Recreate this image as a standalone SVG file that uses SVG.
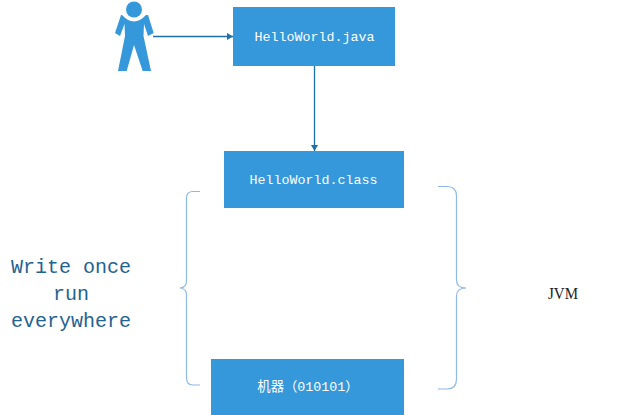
<svg xmlns="http://www.w3.org/2000/svg" width="630" height="415" viewBox="0 0 630 415">
<style>
.box{fill:#3498db}
.lbl{font-family:"Liberation Mono","Noto Sans CJK SC",monospace;font-size:13.33px;fill:#fff;text-anchor:middle}
.big{font-family:"Liberation Mono",monospace;font-size:20px;fill:#1f6391;text-anchor:middle}
.brace{fill:none;stroke:#8db8e8;stroke-width:1.2}
.conn{stroke:#1f6fa8;stroke-width:1.3;fill:none;marker-end:url(#arrow)}
</style>
<defs>
<marker id="arrow" markerUnits="userSpaceOnUse" markerWidth="7" markerHeight="7" refX="6" refY="3.5" orient="auto"><path d="M0 0L6 3.500L0 7Z" fill="#1f6fa8"/></marker>
</defs>
<rect width="630" height="415" fill="#fff"/>
<g id="user">
<circle cx="134" cy="9.500" r="8" class="box"/>
<path class="box" d="M122 15Q134 28 146 15L148 15L153.700 33L148 36L144 24L143.500 36L151 71L142.700 71L134 45L126.700 71L118 71L125 36L124.500 24L120 36L115 33L121 15Z"/>
</g>
<g id="java"><rect class="box" x="233" y="7" width="162" height="59"/><text class="lbl" x="314.500" y="41">HelloWorld.java</text></g>
<g id="class"><rect class="box" x="224" y="151" width="180" height="57"/><text class="lbl" x="313.500" y="184">HelloWorld.class</text></g>
<g id="machine"><rect class="box" x="211" y="359" width="193" height="56"/><text class="lbl" x="308" y="391">机器（010101）</text></g>
<g id="connectors">
<path class="conn" d="M153 36.500H233"/>
<path class="conn" d="M314.500 66V151"/>
</g>
<g id="left-brace"><path class="brace" d="M200 191.500H193Q186.500 191.500 186.500 198V281Q186.500 287.500 180 288Q186.500 288.500 186.500 295V378Q186.500 385 193 385H200"/></g>
<g id="right-brace"><path class="brace" d="M438 186.500H447Q456.500 186.500 456.500 196V280Q456.500 288 466 288Q456.500 288 456.500 296V379Q456.500 389 447 389H438"/></g>
<g id="write">
<text class="big" x="71" y="273">Write once</text>
<text class="big" x="71" y="300">run</text>
<text class="big" x="71" y="327">everywhere</text>
</g>
<g id="jvm"><text x="563" y="299" font-family="Liberation Serif,serif" font-size="17" text-anchor="middle" fill="#222" textLength="30" lengthAdjust="spacingAndGlyphs">JVM</text></g>
</svg>
